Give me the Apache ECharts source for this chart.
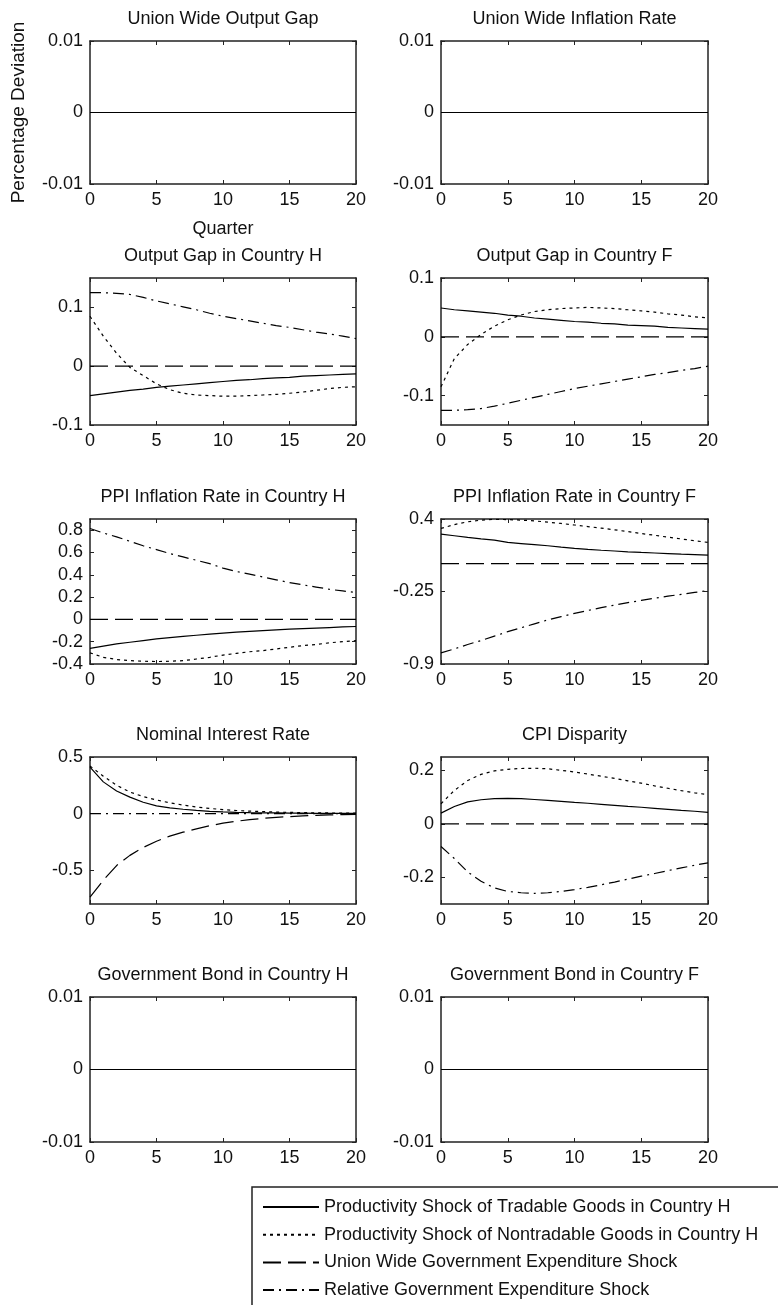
<!DOCTYPE html>
<html>
<head>
<meta charset="utf-8">
<script src="https://cdn.jsdelivr.net/npm/echarts@6/dist/echarts.min.js"></script>
<style>
html, body { margin: 0; padding: 0; background: #fff; }
#chart { width: 778px; height: 1305px; }
</style>
</head>
<body>
<div id="chart"></div>
<script>
// quarters after the shock
var quarters = [0, 1, 2, 3, 4, 5, 6, 7, 8, 9, 10, 11, 12, 13, 14, 15, 16, 17, 18, 19, 20];
var shockNames = [
    "Productivity Shock of Tradable Goods in Country H",
    "Productivity Shock of Nontradable Goods in Country H",
    "Union Wide Government Expenditure Shock",
    "Relative Government Expenditure Shock"
];

// no response at all
var flat = [0, 0, 0, 0, 0, 0, 0, 0, 0, 0, 0, 0, 0, 0, 0, 0, 0, 0, 0, 0, 0];

// output gap in country H
var outH_T = [-0.050, -0.047, -0.044, -0.041, -0.039, -0.036, -0.034, -0.032, -0.030, -0.028, -0.026, -0.024, -0.023, -0.021, -0.020, -0.019, -0.017, -0.016, -0.015, -0.014, -0.013];
var outH_N = [0.085, 0.051, 0.022, -0.002, -0.016, -0.030, -0.040, -0.046, -0.049, -0.050, -0.051, -0.051, -0.050, -0.049, -0.048, -0.046, -0.044, -0.041, -0.038, -0.036, -0.035];
var outH_R = [0.125, 0.125, 0.124, 0.122, 0.117, 0.111, 0.106, 0.101, 0.096, 0.090, 0.085, 0.081, 0.077, 0.073, 0.069, 0.066, 0.062, 0.058, 0.055, 0.051, 0.047];

// output gap in country F
var outF_T = [0.049, 0.046, 0.044, 0.042, 0.040, 0.037, 0.035, 0.032, 0.030, 0.028, 0.026, 0.025, 0.023, 0.022, 0.020, 0.019, 0.018, 0.016, 0.015, 0.014, 0.013];
var outF_N = [-0.085, -0.037, -0.013, 0.004, 0.018, 0.029, 0.037, 0.043, 0.046, 0.048, 0.049, 0.050, 0.049, 0.048, 0.046, 0.044, 0.042, 0.039, 0.037, 0.034, 0.032];
var outF_R = [-0.125, -0.125, -0.124, -0.122, -0.118, -0.113, -0.108, -0.103, -0.098, -0.093, -0.088, -0.084, -0.080, -0.076, -0.072, -0.068, -0.064, -0.061, -0.057, -0.054, -0.050];

// PPI inflation in country H
var ppiH_T = [-0.26, -0.24, -0.22, -0.205, -0.19, -0.175, -0.163, -0.152, -0.142, -0.132, -0.123, -0.115, -0.108, -0.101, -0.094, -0.088, -0.083, -0.078, -0.073, -0.068, -0.064];
var ppiH_N = [-0.30, -0.34, -0.36, -0.37, -0.375, -0.378, -0.375, -0.37, -0.355, -0.34, -0.32, -0.305, -0.29, -0.28, -0.265, -0.25, -0.235, -0.225, -0.21, -0.20, -0.19];
var ppiH_R = [0.815, 0.775, 0.74, 0.70, 0.66, 0.625, 0.59, 0.56, 0.53, 0.50, 0.46, 0.43, 0.405, 0.38, 0.355, 0.33, 0.31, 0.29, 0.27, 0.255, 0.24];

// PPI inflation in country F
var ppiF_T = [0.265, 0.25, 0.235, 0.222, 0.21, 0.19, 0.18, 0.17, 0.16, 0.148, 0.137, 0.128, 0.12, 0.113, 0.106, 0.10, 0.095, 0.09, 0.085, 0.081, 0.077];
var ppiF_N = [0.316, 0.35, 0.375, 0.39, 0.397, 0.395, 0.39, 0.383, 0.372, 0.36, 0.346, 0.332, 0.318, 0.303, 0.287, 0.27, 0.254, 0.237, 0.221, 0.205, 0.19];
var ppiF_R = [-0.80, -0.765, -0.725, -0.69, -0.65, -0.61, -0.575, -0.54, -0.505, -0.475, -0.446, -0.42, -0.395, -0.372, -0.35, -0.33, -0.31, -0.292, -0.275, -0.258, -0.243];

// nominal interest rate
var rate_T = [0.41, 0.28, 0.20, 0.145, 0.10, 0.068, 0.05, 0.038, 0.028, 0.02, 0.015, 0.011, 0.008, 0.006, 0.005, 0.004, 0.003, 0.002, 0.002, 0.001, 0.001];
var rate_N = [0.42, 0.33, 0.25, 0.19, 0.15, 0.12, 0.095, 0.075, 0.058, 0.045, 0.035, 0.027, 0.021, 0.017, 0.013, 0.01, 0.008, 0.006, 0.005, 0.004, 0.003];
var rate_U = [-0.74, -0.59, -0.46, -0.37, -0.30, -0.245, -0.20, -0.165, -0.135, -0.108, -0.085, -0.068, -0.054, -0.043, -0.034, -0.027, -0.021, -0.016, -0.012, -0.009, -0.007];

// CPI disparity
var cpi_T = [0.04, 0.065, 0.082, 0.09, 0.094, 0.095, 0.094, 0.091, 0.088, 0.084, 0.08, 0.077, 0.073, 0.069, 0.065, 0.062, 0.058, 0.054, 0.05, 0.047, 0.043];
var cpi_N = [0.075, 0.125, 0.162, 0.185, 0.198, 0.204, 0.207, 0.208, 0.206, 0.20, 0.194, 0.186, 0.178, 0.17, 0.161, 0.152, 0.142, 0.133, 0.124, 0.116, 0.109];
var cpi_R = [-0.085, -0.13, -0.18, -0.215, -0.24, -0.253, -0.258, -0.26, -0.258, -0.253, -0.246, -0.238, -0.228, -0.218, -0.207, -0.196, -0.186, -0.175, -0.165, -0.155, -0.146];

var panels = [
    { title: "Union Wide Output Gap", min: -0.01, max: 0.01, ticks: [-0.01, 0, 0.01], lines: [flat, flat, flat, flat] },
    { title: "Union Wide Inflation Rate", min: -0.01, max: 0.01, ticks: [-0.01, 0, 0.01], lines: [flat, flat, flat, flat] },
    { title: "Output Gap in Country H", min: -0.1, max: 0.15, ticks: [-0.1, 0, 0.1], lines: [outH_T, outH_N, flat, outH_R] },
    { title: "Output Gap in Country F", min: -0.15, max: 0.1, ticks: [-0.1, 0, 0.1], lines: [outF_T, outF_N, flat, outF_R] },
    { title: "PPI Inflation Rate in Country H", min: -0.4, max: 0.9, ticks: [-0.4, -0.2, 0, 0.2, 0.4, 0.6, 0.8], lines: [ppiH_T, ppiH_N, flat, ppiH_R] },
    { title: "PPI Inflation Rate in Country F", min: -0.9, max: 0.4, ticks: [-0.9, -0.25, 0.4], lines: [ppiF_T, ppiF_N, flat, ppiF_R] },
    { title: "Nominal Interest Rate", min: -0.8, max: 0.5, ticks: [-0.5, 0, 0.5], lines: [rate_T, rate_N, rate_U, flat] },
    { title: "CPI Disparity", min: -0.3, max: 0.25, ticks: [-0.2, 0, 0.2], lines: [cpi_T, cpi_N, flat, cpi_R] },
    { title: "Government Bond in Country H", min: -0.01, max: 0.01, ticks: [-0.01, 0, 0.01], lines: [flat, flat, flat, flat] },
    { title: "Government Bond in Country F", min: -0.01, max: 0.01, ticks: [-0.01, 0, 0.01], lines: [flat, flat, flat, flat] }
];

var font = "'Liberation Sans', Arial, sans-serif";
var ink = "#111";
var dashes = ["solid", [3, 4], [18, 7], [11, 5, 2, 5]];
var colLeft = [90, 441], colWidth = [266, 267];
var rowTop = [41, 278, 519, 757, 997], rowHeight = [143, 147, 145, 147, 145];

var option = {
    animation: false,
    backgroundColor: "#fff",
    textStyle: { fontFamily: font, color: ink },
    title: [],
    grid: [],
    xAxis: [],
    yAxis: [],
    series: [],
    legend: {
        orient: "vertical",
        left: 262,
        top: 1197,
        height: 108,
        padding: 0,
        itemWidth: 56,
        itemHeight: 14,
        itemGap: 7.7,
        selectedMode: false,
        itemStyle: { opacity: 0 },
        data: shockNames,
        textStyle: { fontFamily: font, fontSize: 18, color: ink, lineHeight: 20 }
    },
    graphic: [{
        type: "rect",
        shape: { x: 252, y: 1187, width: 600, height: 200 },
        style: { fill: "none", stroke: "#222", lineWidth: 1.5 }
    }]
};

panels.forEach(function (p, i) {
    var col = i % 2, row = Math.floor(i / 2);
    var left = colLeft[col], top = rowTop[row];
    option.grid.push({ left: left, top: top, width: colWidth[col], height: rowHeight[row], outerBoundsMode: "none" });
    option.title.push({
        text: p.title,
        left: left + colWidth[col] / 2,
        top: top - 32,
        textAlign: "center",
        padding: 0,
        textStyle: { fontFamily: font, fontSize: 18, fontWeight: "normal", color: ink, lineHeight: 20 }
    });
    var edge = { show: true, onZero: false, lineStyle: { color: "#222", width: 1.5 } };
    var tick = { show: true, inside: true, length: 4, lineStyle: { color: "#222" } };
    option.xAxis.push({
        type: "value", gridIndex: i, min: 0, max: 20, interval: 5, position: "bottom",
        axisLine: edge, axisTick: tick, splitLine: { show: false },
        axisLabel: { fontFamily: font, fontSize: 18, color: ink, margin: 7 },
        name: i === 0 ? "Quarter" : "", nameLocation: "middle", nameGap: 36,
        nameTextStyle: { fontFamily: font, fontSize: 18, color: ink }
    });
    option.xAxis.push({
        type: "value", gridIndex: i, min: 0, max: 20, interval: 5, position: "top",
        axisLine: edge, axisTick: tick, splitLine: { show: false }, axisLabel: { show: false }
    });
    option.yAxis.push({
        type: "value", gridIndex: i, min: p.min, max: p.max, position: "left",
        axisLine: edge,
        axisTick: { show: true, inside: true, length: 4, lineStyle: { color: "#222" }, customValues: p.ticks },
        splitLine: { show: false },
        axisLabel: { fontFamily: font, fontSize: 18, color: ink, margin: 7, customValues: p.ticks },
        name: i === 0 ? "Percentage Deviation" : "", nameLocation: "middle", nameRotate: 90, nameGap: 62,
        nameTextStyle: { fontFamily: font, fontSize: 19, color: ink }
    });
    option.yAxis.push({
        type: "value", gridIndex: i, min: p.min, max: p.max, position: "right",
        axisLine: edge,
        axisTick: { show: true, inside: true, length: 4, lineStyle: { color: "#222" }, customValues: p.ticks },
        splitLine: { show: false }, axisLabel: { show: false }
    });
    p.lines.forEach(function (vals, k) {
        option.series.push({
            name: shockNames[k],
            type: "line",
            xAxisIndex: 2 * i,
            yAxisIndex: 2 * i,
            symbol: "none",
            silent: true,
            lineStyle: { color: "#000", width: 1.2, type: dashes[k] },
            itemStyle: { color: "#000" },
            data: quarters.map(function (q, j) { return [q, vals[j]]; })
        });
    });
});

echarts.init(document.getElementById("chart")).setOption(option);
</script>
</body>
</html>
